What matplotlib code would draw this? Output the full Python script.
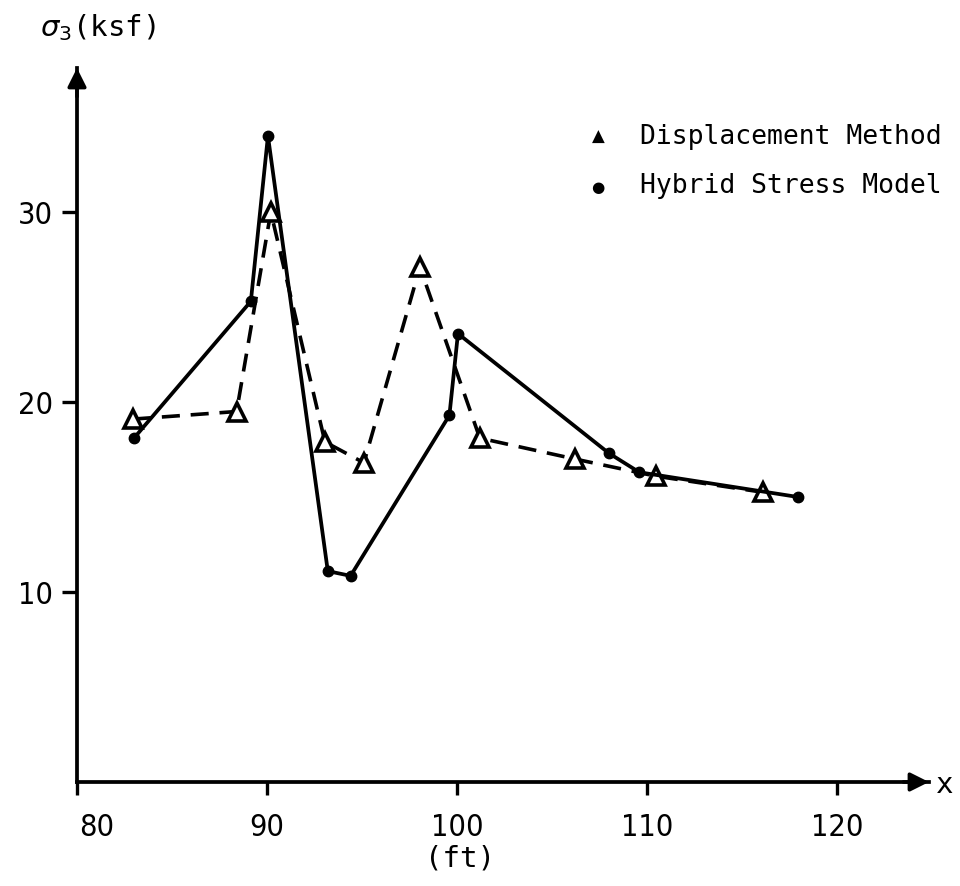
import matplotlib
matplotlib.use("Agg")
import matplotlib.pyplot as plt
from matplotlib.transforms import ScaledTranslation
from matplotlib.font_manager import FontProperties

# sigma_3 along the section (x in ft, stress in ksf)
x_disp = [82.95, 88.4, 90.2, 93.05, 95.1, 98.05, 101.2, 106.2, 110.45, 116.1]
y_disp = [19.1, 19.5, 30.0, 17.9, 16.8, 27.1, 18.1, 17.0, 16.1, 15.25]

x_hyb = [83.0, 89.15, 90.05, 93.2, 94.4, 99.6, 100.05, 108.0, 109.6, 117.95]
y_hyb = [18.1, 25.3, 34.0, 11.1, 10.85, 19.3, 23.6, 17.3, 16.3, 15.0]

x_ticks = [80, 90, 100, 110, 120]
y_ticks = [10, 20, 30]
legend_labels = ["Displacement Method", "Hybrid Stress Model"]

num_prop = FontProperties(family=["DejaVu Sans"], stretch="condensed", size=22)
mono_font = ["DejaVu Sans Mono"]

W, H = 960, 886
fig = plt.figure(figsize=(W / 100, H / 100), dpi=100)
ax = fig.add_axes([77 / W, 1 - 782 / H, (929 - 77) / W, (782 - 68) / H])
ax.set_xlim(80, 80 + (929 - 77) / 19.0)
ax.set_ylim(0, (782 - 68) / 19.0)

for s in ("top", "right"):
    ax.spines[s].set_visible(False)
for s in ("left", "bottom"):
    ax.spines[s].set_linewidth(2.7)

# arrow heads on the axes
ax.annotate("", xy=(1.0, 0), xytext=(0.97, 0), xycoords="axes fraction",
            arrowprops=dict(arrowstyle="-|>", color="black", lw=2.6,
                            mutation_scale=28, shrinkA=0, shrinkB=0))
ax.annotate("", xy=(0, 1.0), xytext=(0, 0.96), xycoords="axes fraction",
            arrowprops=dict(arrowstyle="-|>", color="black", lw=2.6,
                            mutation_scale=28, shrinkA=0, shrinkB=0))

ax.set_xticks(x_ticks)
ax.set_yticks(y_ticks)
ax.set_xticklabels([str(v) for v in x_ticks], fontproperties=num_prop)
ax.set_yticklabels([str(v) for v in y_ticks], fontproperties=num_prop)
ax.tick_params(axis="x", direction="out", length=9, width=2.4, pad=13)
ax.tick_params(axis="y", direction="out", length=11, width=2.4, pad=6)

# displacement method: dashed with open triangles
ax.plot(x_disp, y_disp, color="black", lw=2.6, ls=(0, (5, 3)), zorder=3)
ax.plot(x_disp, y_disp, ls="none", marker="^", ms=13, mfc="white",
        mec="black", mew=2.6, zorder=4)

# hybrid stress model: solid with dots
ax.plot(x_hyb, y_hyb, color="black", lw=2.7, marker="o", ms=7.5,
        mfc="black", mec="black", zorder=5)

# legend entries
fig.text(598 / W, 1 - 137 / H, "\u25b2", fontsize=12, ha="center", va="center",
         family=["DejaVu Sans"])
fig.text(640 / W, 1 - 137 / H, legend_labels[0], fontsize=19, ha="left",
         va="center", family=mono_font)
fig.text(598 / W, 1 - 187 / H, "\u25cf", fontsize=11, ha="center", va="center",
         family=["DejaVu Sans"])
fig.text(640 / W, 1 - 186 / H, legend_labels[1], fontsize=19, ha="left",
         va="center", family=mono_font)

# axis titles
fig.text(40 / W, 1 - 36 / H, r"$\sigma_3$(ksf)", fontsize=21, ha="left",
         va="baseline", family=mono_font)
fig.text(945 / W, 1 - 785 / H, "x", fontsize=21, ha="center", va="center",
         family=mono_font)
fig.text(460 / W, 1 - 858 / H, "(ft)", fontsize=21, ha="center", va="center",
         family=mono_font)

# first x label sits a little right of the corner
lbl = ax.get_xticklabels()[0]
lbl.set_transform(lbl.get_transform() + ScaledTranslation(0.2, 0, fig.dpi_scale_trans))

fig.savefig("out.png", dpi=100)
